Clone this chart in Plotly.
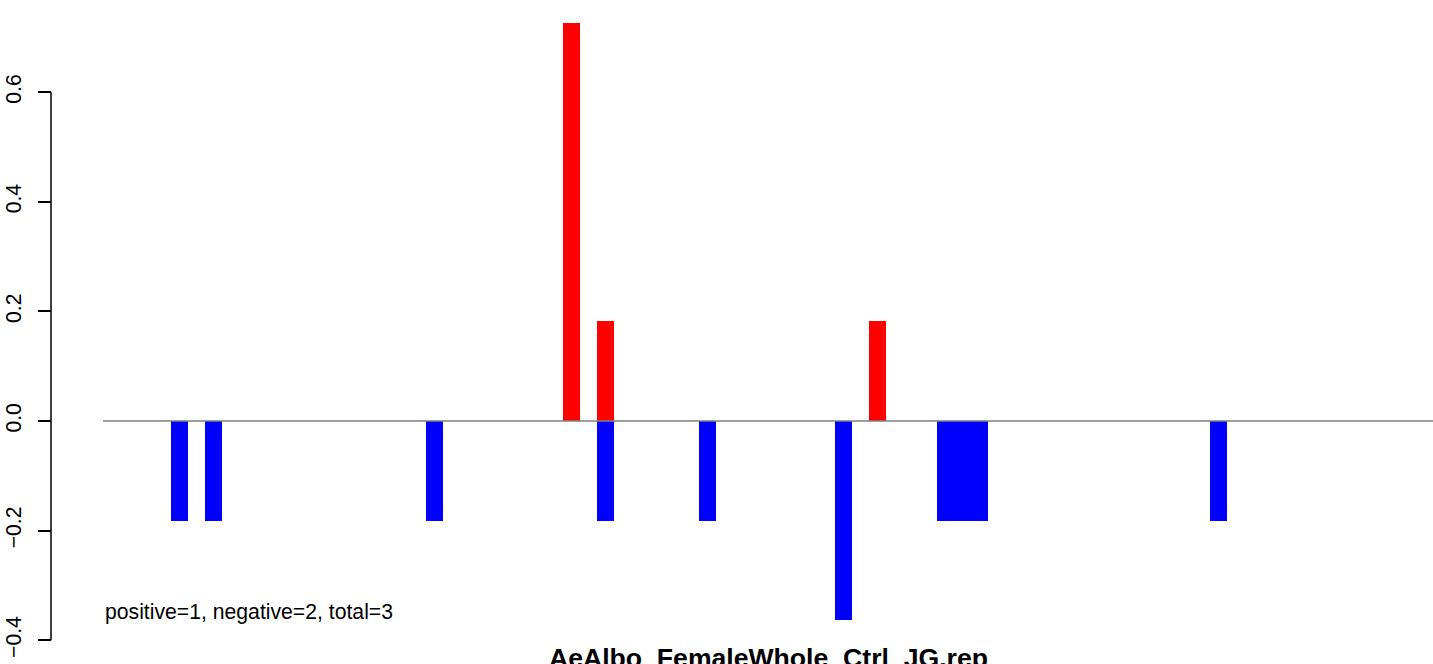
import plotly.graph_objects as go

# bar slot positions (index along x) and values
pos_x = [23, 25, 41]
pos_y = [0.727, 0.182, 0.182]
neg_x = [0, 2, 15, 25, 31, 39, 45, 46, 47, 61]
neg_y = [-0.182, -0.182, -0.182, -0.182, -0.182, -0.364, -0.182, -0.182, -0.182, -0.182]

tick_vals = [-0.4, -0.2, 0.0, 0.2, 0.4, 0.6]
tick_text = ["\u22120.4", "\u22120.2", "0.0", "0.2", "0.4", "0.6"]

x_label = "AeAlbo_FemaleWhole_Ctrl_JG.rep"
note = "positive=1, negative=2, total=3"

FONT = "Liberation Sans, Arial, Helvetica, sans-serif"

fig = go.Figure()
fig.add_trace(go.Bar(x=neg_x, y=neg_y, width=1, marker=dict(color="#0000FF", line=dict(width=0)),
                     showlegend=False, hoverinfo="x+y"))
fig.add_trace(go.Bar(x=pos_x, y=pos_y, width=1, marker=dict(color="#FF0000", line=dict(width=0)),
                     showlegend=False, hoverinfo="x+y"))

W, H = 1433, 664
L = 51
plot_left = 103
dom0 = (plot_left - L) / (W - L)

fig.update_layout(
    width=W, height=H,
    margin=dict(l=L, r=0, t=0, b=20, pad=0, autoexpand=False),
    paper_bgcolor="white", plot_bgcolor="white",
    barmode="overlay", bargap=0,
    font=dict(family=FONT, color="black", size=21.2),
    xaxis=dict(domain=[dom0, 1], range=[-4.493, 73.61], visible=False, fixedrange=True),
    yaxis=dict(anchor="free", position=0, range=[-0.4069, 0.7682], automargin=False,
               showgrid=False, zeroline=False, showline=False,
               tickmode="array", tickvals=tick_vals, ticktext=tick_text,
               ticks="outside", ticklen=13, tickwidth=1.5, tickcolor="black",
               ticklabelstandoff=9,
               tickangle=-90, tickfont=dict(size=21.2, family=FONT, color="black"),
               fixedrange=True),
    shapes=[
        # zero reference line
        dict(type="line", xref="x domain", x0=0, x1=1, yref="y", y0=0, y1=0,
             line=dict(color="#808080", width=1.5), layer="above"),
        # y axis line from first to last tick
        dict(type="line", xref="paper", x0=0, x1=0, yref="y", y0=tick_vals[0], y1=tick_vals[-1],
             line=dict(color="black", width=1.5), layer="above"),
    ],
    annotations=[
        dict(text=note, xref="x domain", x=0, xanchor="left", yref="y", y=-0.3485,
             yanchor="middle", showarrow=False, font=dict(size=21.2, family=FONT, color="black")),
        dict(text="<b>" + x_label + "</b>", xref="x domain", x=0.5, xanchor="center",
             yref="paper", y=-0.0225, yanchor="middle", showarrow=False,
             font=dict(size=26.6, family=FONT, color="black")),
    ],
)

fig.write_html("out.html", config={"displayModeBar": False},
               post_script="document.body.style.margin='0px';document.body.style.overflow='hidden';")
